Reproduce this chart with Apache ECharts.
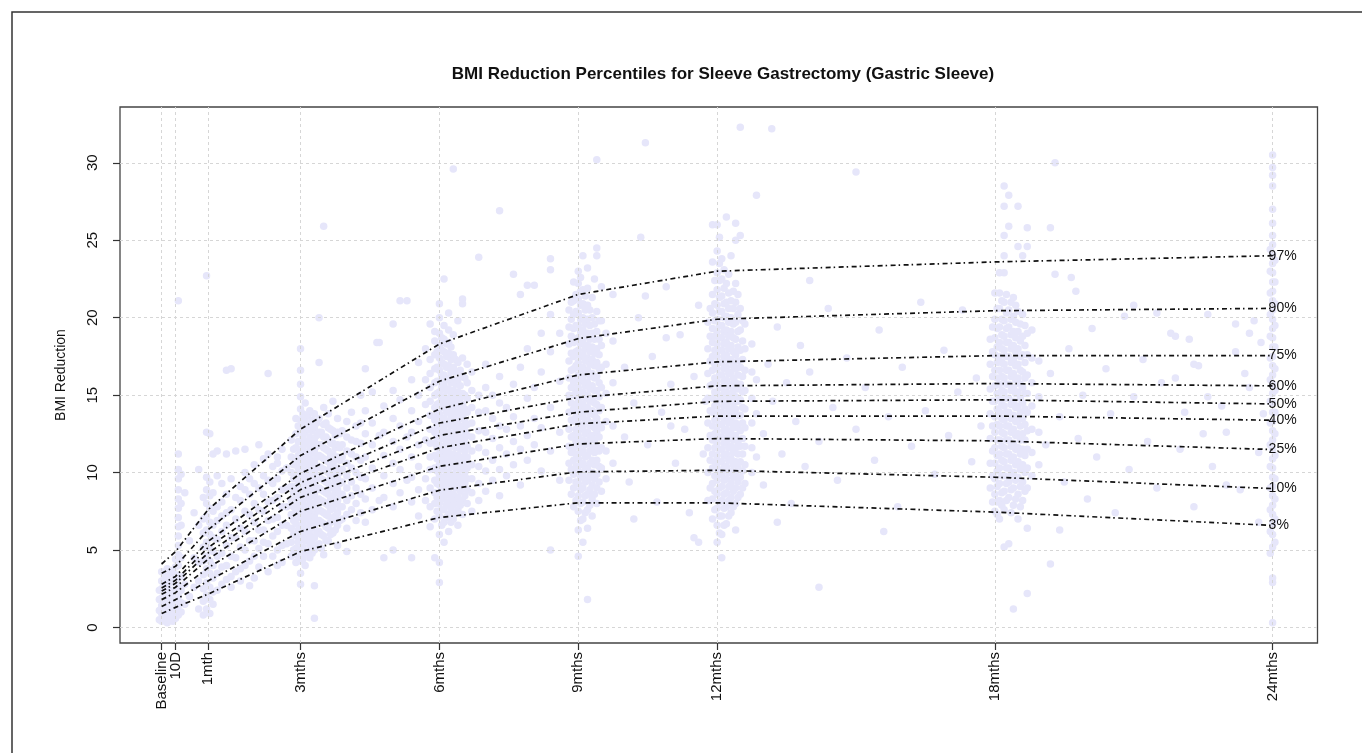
<!DOCTYPE html>
<html>
<head>
<meta charset="utf-8">
<script src="https://cdn.jsdelivr.net/npm/echarts@6/dist/echarts.min.js"></script>
<style>
html,body{margin:0;padding:0;background:#fff;}
#chart{width:1362px;height:753px;}
</style>
</head>
<body>
<div id="chart"></div>
<script>
// ---- axis ticks ----
const tickMonths = [0, 0.3, 1, 3, 6, 9, 12, 18, 24];
const tickLabels = ['Baseline', '10D', '1mth', '3mths', '6mths', '9mths', '12mths', '18mths', '24mths'];
const yTicks = [0, 5, 10, 15, 20, 25, 30];

// ---- percentile curves (BMI reduction at each tick month) ----
const pctNames = ['97%', '90%', '75%', '60%', '50%', '40%', '25%', '10%', '3%'];
const p97 = [4.1, 4.9, 7.6, 12.8, 18.3, 21.5, 23.0, 23.6, 24.0];
const p90 = [3.5, 3.95, 6.3, 11.1, 15.9, 18.65, 19.9, 20.45, 20.6];
const p75 = [2.8, 3.3, 5.55, 9.95, 14.1, 16.3, 17.15, 17.55, 17.55];
const p60 = [2.55, 3.05, 5.15, 9.35, 13.2, 14.85, 15.6, 15.75, 15.6];
const p50 = [2.35, 2.85, 4.8, 8.9, 12.4, 13.9, 14.6, 14.7, 14.43];
const p40 = [2.15, 2.6, 4.4, 8.4, 11.6, 13.15, 13.65, 13.65, 13.38];
const p25 = [1.8, 2.25, 3.85, 7.5, 10.4, 11.85, 12.2, 12.05, 11.49];
const p10 = [1.35, 1.8, 3.0, 6.2, 8.86, 10.05, 10.15, 9.7, 8.97];
const p3  = [0.9, 1.3, 2.15, 4.9, 7.1, 8.05, 8.05, 7.45, 6.59];

// ---- observed patients: [month, [BMI reductions...]] ----
const baselinePts = [
  [-0.05, [0.5, 1.1, 1.8, 2.4]],
  [0.0, [0.4, 0.9, 1.4, 1.9, 2.5, 3.0, 3.6]],
  [0.06, [0.6, 1.2, 1.7, 2.2, 2.8, 3.3]],
  [0.12, [0.3, 0.8, 1.4, 2.0, 2.6, 3.1, 3.8]],
  [0.18, [0.5, 1.0, 1.6, 2.2, 2.9, 3.5]],
  [0.24, [0.4, 0.9, 1.3, 1.9, 2.4, 3.0, 3.7]],
  [0.3, [0.6, 1.1, 1.7, 2.3, 2.9, 3.4, 3.9, 4.4]],
  [0.36, [0.8, 1.4, 2.0, 2.6, 3.2, 4.0, 4.7, 5.3, 5.9, 6.5, 7.1, 7.7, 8.3, 8.9, 9.6, 10.2, 11.2, 21.1]],
  [0.42, [1.0, 1.6, 2.4, 3.3, 4.5, 6.6, 8.0, 9.9]],
  [0.5, [1.5, 2.8, 8.7]]
];
const oneMonthPts = [
  [0.6, [2.0, 5.6]],
  [0.7, [2.6, 4.5, 7.4]],
  [0.8, [1.2, 3.0, 4.2, 6.6, 10.2]],
  [0.9, [0.8, 1.7, 2.5, 3.4, 4.3, 5.2, 6.1, 7.0, 8.4]],
  [0.97, [1.2, 2.1, 2.9, 3.8, 4.6, 5.5, 6.3, 7.2, 8.0, 8.9, 9.7, 12.6, 22.7]],
  [1.04, [0.9, 1.8, 2.6, 3.5, 4.3, 5.1, 6.0, 6.8, 7.7, 8.5, 9.4, 12.5]],
  [1.11, [1.5, 2.3, 3.2, 4.0, 4.9, 5.8, 6.6, 7.5, 8.7, 11.2]],
  [1.2, [2.4, 3.5, 4.6, 5.7, 6.9, 7.8, 9.8, 11.4]],
  [1.3, [2.8, 3.9, 4.8, 6.2, 7.2, 8.1, 9.3]]
];
const earlyPts = [
  [1.4, [3.1, 4.0, 5.3, 6.6, 7.4, 8.6, 11.2, 16.6]],
  [1.5, [2.6, 3.3, 4.6, 5.8, 7.6, 9.6, 16.7]],
  [1.6, [3.6, 4.5, 5.8, 7.0, 8.4, 11.4]],
  [1.7, [3.0, 3.8, 5.2, 6.4, 8.2, 9.1]],
  [1.8, [4.0, 5.0, 6.2, 7.5, 8.9, 10.0, 11.5]],
  [1.9, [2.7, 4.3, 5.6, 7.3, 8.6, 9.6]],
  [2.0, [3.2, 4.6, 5.6, 6.8, 8.0, 9.3, 10.5]],
  [2.1, [3.9, 5.1, 6.3, 7.6, 9.0, 11.8]],
  [2.2, [4.6, 5.5, 6.3, 7.5, 8.6, 9.8, 10.9]],
  [2.3, [3.6, 5.4, 6.9, 8.1, 9.5, 11.2, 16.4]],
  [2.4, [4.6, 5.9, 7.0, 8.2, 9.3, 10.4]],
  [2.5, [4.0, 5.0, 6.2, 7.1, 8.4, 9.6, 10.6, 11.0]],
  [2.6, [4.2, 5.3, 6.6, 7.8, 8.9, 10.1, 11.5]]
];
const threeMonthPts = [
  [2.7, [5.4, 6.6, 7.8, 9.0, 10.3]],
  [2.8, [4.6, 5.5, 6.4, 7.3, 8.2, 9.1, 10.0, 11.0, 12.1]],
  [2.85, [5.0, 6.0, 6.9, 7.8, 8.7, 9.6, 10.5, 11.5]],
  [2.9, [4.2, 5.1, 5.9, 6.7, 7.5, 8.3, 9.1, 9.9, 10.7, 11.6, 12.5, 13.5]],
  [2.95, [4.6, 5.5, 6.3, 7.1, 7.9, 8.7, 9.5, 10.3, 11.1, 12.0, 13.0]],
  [3.0, [2.8, 3.5, 4.3, 5.0, 5.7, 6.4, 7.1, 7.8, 8.5, 9.2, 9.9, 10.6, 11.3, 12.0, 12.7, 13.4, 14.1, 14.9, 15.7, 16.6, 18.0]],
  [3.05, [4.4, 5.2, 6.0, 6.7, 7.4, 8.1, 8.8, 9.5, 10.2, 10.9, 11.6, 12.3, 13.0, 13.8]],
  [3.1, [4.0, 4.8, 5.6, 6.3, 7.0, 7.7, 8.4, 9.1, 9.8, 10.5, 11.2, 11.9, 12.6, 13.4, 14.5]],
  [3.15, [4.9, 5.7, 6.4, 7.1, 7.8, 8.5, 9.2, 9.9, 10.6, 11.3, 12.0, 12.8, 13.7]],
  [3.2, [4.5, 5.3, 6.0, 6.7, 7.4, 8.1, 8.8, 9.5, 10.2, 10.9, 11.6, 12.3, 13.1, 14.0]],
  [3.25, [4.8, 5.6, 6.4, 7.1, 7.8, 8.5, 9.2, 9.9, 10.6, 11.3, 12.0, 12.7, 13.4]],
  [3.3, [0.6, 2.7, 5.0, 5.8, 6.5, 7.2, 7.9, 8.6, 9.3, 10.0, 10.7, 11.4, 12.1, 12.9, 13.8]],
  [3.35, [5.3, 6.1, 6.8, 7.5, 8.2, 8.9, 9.6, 10.3, 11.0, 11.7, 12.4, 13.2]],
  [3.4, [5.4, 6.2, 6.9, 7.6, 8.3, 9.0, 9.7, 10.4, 11.1, 11.8, 12.6, 13.5, 17.1, 20.0]],
  [3.45, [5.1, 6.0, 6.8, 7.5, 8.2, 8.9, 9.6, 10.3, 11.0, 11.8, 12.6]],
  [3.5, [4.7, 5.9, 6.7, 7.4, 8.1, 8.8, 9.5, 10.2, 10.9, 11.6, 12.3, 13.1, 14.2, 25.9]],
  [3.55, [5.6, 6.5, 7.3, 8.0, 8.7, 9.4, 10.1, 10.8, 11.5, 12.3, 13.2]],
  [3.6, [5.6, 6.4, 7.2, 7.9, 8.6, 9.3, 10.0, 10.7, 11.4, 12.1, 12.9, 13.8]],
  [3.65, [6.0, 6.8, 7.6, 8.3, 9.0, 9.7, 10.4, 11.1, 11.9, 12.8]],
  [3.7, [6.1, 6.9, 7.7, 8.4, 9.1, 9.8, 10.5, 11.2, 11.9, 12.7, 14.6]],
  [3.75, [6.3, 7.2, 8.0, 8.7, 9.4, 10.1, 10.8, 11.6, 12.4]],
  [3.8, [5.3, 6.6, 7.4, 8.2, 8.9, 9.6, 10.3, 11.0, 11.8, 12.6, 13.5]],
  [3.85, [6.9, 7.8, 8.6, 9.3, 10.0, 10.8, 11.6, 12.5]],
  [3.9, [7.0, 7.8, 8.6, 9.4, 10.2, 11.0, 11.8, 12.7]],
  [4.0, [4.9, 6.4, 7.3, 8.2, 9.0, 9.8, 10.6, 11.4, 12.3, 13.3]],
  [4.1, [7.6, 8.5, 9.4, 10.3, 11.2, 12.1, 13.9]],
  [4.2, [6.9, 8.0, 9.0, 10.0, 11.0, 12.0, 13.0]],
  [4.3, [7.4, 8.6, 9.7, 10.8, 11.9, 13.2, 15.0]]
];
const fourToSixPts = [
  [4.4, [6.8, 8.3, 9.6, 11.0, 12.5, 14.0, 16.7]],
  [4.55, [7.6, 9.0, 10.3, 11.8, 13.2, 15.2]],
  [4.7, [8.2, 12.4, 18.4]],
  [4.65, [18.4]],
  [4.8, [4.5, 8.4, 9.8, 11.1, 12.6, 14.3]],
  [5.0, [5.0, 7.8, 9.3, 10.6, 12.0, 13.5, 15.3, 19.6]],
  [5.15, [8.7, 10.2, 11.5, 13.0, 14.7, 21.1]],
  [5.3, [9.5, 12.3, 21.1]],
  [5.4, [4.5, 8.1, 9.7, 11.0, 12.6, 14.0, 16.0]],
  [5.55, [7.2, 8.9, 10.4, 11.8, 13.3, 15.0, 17.1]],
  [5.7, [8.2, 9.6, 12.1, 14.4, 16.0, 18.0]]
];
const sixMonthPts = [
  [5.8, [6.5, 7.8, 9.0, 10.2, 11.0, 11.9, 12.8, 13.7, 14.6, 15.5, 16.4, 17.3, 19.6]],
  [5.9, [4.5, 7.0, 8.0, 8.7, 9.5, 10.3, 11.1, 11.9, 12.6, 13.4, 14.2, 15.0, 15.8, 16.7, 17.6, 18.5, 19.1]],
  [5.95, [7.5, 8.4, 9.3, 10.1, 10.9, 11.6, 12.3, 13.0, 13.7, 14.4, 15.1, 15.9, 16.8, 17.8]],
  [6.0, [2.9, 4.2, 6.0, 7.2, 8.0, 8.6, 9.2, 9.8, 10.5, 11.2, 11.8, 12.5, 13.1, 13.8, 14.5, 15.2, 15.9, 16.6, 17.4, 18.2, 19.0, 20.0, 20.9]],
  [6.05, [6.6, 7.6, 8.3, 8.9, 9.5, 10.2, 10.8, 11.5, 12.2, 12.8, 13.5, 14.2, 14.8, 15.5, 16.3, 17.1, 17.9, 18.7]],
  [6.1, [5.5, 6.8, 7.6, 8.3, 9.0, 9.6, 10.2, 10.9, 11.5, 12.2, 12.9, 13.5, 14.2, 14.9, 15.6, 16.3, 17.0, 17.8, 18.6, 19.5, 22.5]],
  [6.15, [7.1, 7.9, 8.6, 9.3, 9.9, 10.6, 11.2, 11.9, 12.5, 13.2, 13.9, 14.5, 15.3, 16.0, 16.8, 17.5, 18.3]],
  [6.2, [6.2, 7.3, 8.1, 8.8, 9.4, 10.0, 10.7, 11.3, 12.0, 12.6, 13.3, 14.0, 14.7, 15.4, 16.1, 16.9, 17.7, 18.4, 19.2, 20.3]],
  [6.25, [6.8, 7.7, 8.4, 9.1, 9.7, 10.4, 11.0, 11.7, 12.3, 13.0, 13.6, 14.3, 15.0, 15.8, 16.5, 17.3, 18.1]],
  [6.3, [7.0, 7.9, 8.6, 9.3, 9.9, 10.6, 11.2, 11.9, 12.5, 13.2, 13.9, 14.6, 15.3, 16.0, 16.8, 17.6, 18.9, 29.6]],
  [6.35, [7.4, 8.2, 9.0, 9.6, 10.3, 10.9, 11.6, 12.2, 12.9, 13.5, 14.2, 14.9, 15.7, 16.5, 17.3]],
  [6.4, [6.6, 7.6, 8.4, 9.1, 9.8, 10.5, 11.1, 11.8, 12.4, 13.1, 13.8, 14.5, 15.2, 16.0, 17.1, 19.8]],
  [6.45, [7.9, 8.8, 9.5, 10.2, 10.8, 11.5, 12.1, 12.8, 13.5, 14.1, 14.8, 15.6, 16.6]],
  [6.5, [7.3, 8.2, 9.0, 9.7, 10.4, 11.0, 11.7, 12.3, 13.0, 13.7, 14.4, 15.1, 16.2, 17.4, 20.9, 21.2]],
  [6.55, [8.5, 9.3, 10.0, 10.7, 11.4, 12.0, 12.7, 13.4, 14.1, 15.0, 16.1]],
  [6.6, [8.0, 8.9, 9.6, 10.3, 11.0, 11.7, 12.4, 13.1, 13.9, 14.8, 15.8, 17.0]],
  [6.7, [7.5, 8.7, 9.6, 10.5, 11.4, 12.3, 13.2, 14.2, 15.3, 16.5]],
  [6.85, [8.2, 9.3, 10.4, 11.6, 12.7, 13.9, 15.0, 23.9]],
  [7.0, [8.8, 10.1, 11.3, 12.6, 14.0, 15.5, 17.0]],
  [7.15, [9.5, 10.8, 12.2, 13.5, 15.0]],
  [7.3, [8.5, 10.2, 11.6, 13.0, 14.5, 16.2, 26.9]],
  [7.45, [9.8, 11.2, 12.8, 14.2]],
  [7.6, [10.5, 12.0, 13.6, 15.7, 22.8]],
  [7.75, [9.2, 11.5, 13.0, 16.8, 21.5]],
  [7.9, [10.8, 12.4, 14.8, 18.0, 22.1]],
  [8.05, [11.8, 13.5, 15.5, 22.1]],
  [8.2, [10.1, 12.9, 16.5, 19.0]],
  [8.4, [5.0, 11.4, 14.2, 17.8, 20.2, 23.1, 23.8]],
  [8.6, [9.5, 12.6, 15.9, 19.0]]
];
const nineMonthPts = [
  [8.8, [9.5, 10.6, 11.7, 12.8, 13.9, 15.0, 16.1, 17.2, 18.3, 19.4, 20.5]],
  [8.85, [8.6, 10.2, 11.3, 12.3, 13.4, 14.5, 15.5, 16.6, 17.7, 18.8, 19.9, 21.0]],
  [8.9, [7.8, 9.0, 9.9, 10.8, 11.6, 12.4, 13.3, 14.1, 15.0, 15.8, 16.7, 17.5, 18.4, 19.3, 20.2, 21.1, 22.3]],
  [8.95, [8.2, 9.4, 10.4, 11.2, 12.0, 12.8, 13.6, 14.4, 15.3, 16.1, 16.9, 17.8, 18.6, 19.5, 20.4, 21.5]],
  [9.0, [4.6, 6.3, 7.5, 8.5, 9.3, 10.1, 10.9, 11.7, 12.4, 13.2, 14.0, 14.7, 15.5, 16.3, 17.1, 17.9, 18.7, 19.5, 20.3, 21.2, 22.2, 23.0]],
  [9.05, [6.9, 8.0, 8.9, 9.7, 10.5, 11.3, 12.0, 12.8, 13.6, 14.3, 15.1, 15.9, 16.7, 17.5, 18.3, 19.1, 19.9, 20.8, 21.7, 22.6]],
  [9.1, [5.5, 7.0, 8.1, 9.0, 9.8, 10.6, 11.4, 12.1, 12.9, 13.7, 14.4, 15.2, 16.0, 16.8, 17.6, 18.4, 19.2, 20.0, 20.9, 21.8, 24.0]],
  [9.15, [7.4, 8.5, 9.4, 10.2, 11.0, 11.8, 12.5, 13.3, 14.1, 14.8, 15.6, 16.4, 17.2, 18.0, 18.8, 19.6, 20.5, 21.4]],
  [9.2, [1.8, 6.4, 7.6, 8.6, 9.5, 10.3, 11.1, 11.9, 12.6, 13.4, 14.2, 15.0, 15.8, 16.6, 17.4, 18.2, 19.0, 19.9, 20.8, 21.9, 23.2]],
  [9.25, [7.9, 8.9, 9.8, 10.6, 11.4, 12.2, 13.0, 13.8, 14.6, 15.4, 16.2, 17.0, 17.8, 18.6, 19.5, 20.5]],
  [9.3, [7.2, 8.3, 9.2, 10.0, 10.8, 11.6, 12.4, 13.2, 14.0, 14.8, 15.6, 16.4, 17.3, 18.1, 19.0, 20.0, 21.3]],
  [9.35, [8.6, 9.6, 10.5, 11.3, 12.1, 12.9, 13.7, 14.5, 15.3, 16.1, 16.9, 17.7, 18.6, 19.6, 22.5]],
  [9.4, [8.0, 9.0, 9.9, 10.8, 11.7, 12.6, 13.5, 14.4, 15.3, 16.2, 17.1, 18.0, 19.1, 20.4, 24.0, 24.5, 30.2]],
  [9.45, [9.4, 10.4, 11.4, 12.3, 13.1, 14.0, 14.9, 15.8, 16.7, 17.6, 18.6, 19.8]],
  [9.5, [8.8, 10.3, 11.6, 12.9, 14.2, 15.5, 16.8, 18.2, 19.8, 22.0]],
  [9.6, [9.6, 11.4, 13.3, 15.1, 17.0, 19.0]],
  [9.75, [10.6, 13.0, 15.8, 18.5, 21.5]]
];
const nineToTwelvePts = [
  [10.0, [12.3, 16.8]], [10.1, [9.4]], [10.2, [7.0, 14.5]], [10.3, [20.0]],
  [10.35, [25.2]], [10.45, [31.3, 21.4]], [10.5, [11.8]], [10.6, [17.5]], [10.7, [8.1]],
  [10.8, [13.9]], [10.9, [18.7, 22.0]], [11.0, [13.0, 15.7]], [11.1, [10.6]],
  [11.2, [18.9]], [11.3, [12.8]], [11.4, [7.4]], [11.5, [5.8, 16.2]], [11.6, [5.5, 20.8]],
  [11.7, [11.2]], [11.75, [14.6]]
];
const twelveMonthPts = [
  [11.8, [8.2, 10.0, 11.6, 13.2, 14.8, 16.4, 18.0, 19.7]],
  [11.85, [9.0, 10.8, 12.4, 14.0, 15.6, 17.2, 18.8, 20.6]],
  [11.9, [7.0, 8.3, 9.3, 10.3, 11.2, 12.1, 13.0, 13.9, 14.8, 15.7, 16.6, 17.5, 18.4, 19.3, 20.3, 21.5, 23.6, 26.0]],
  [11.95, [7.6, 8.8, 9.8, 10.7, 11.6, 12.5, 13.4, 14.3, 15.2, 16.1, 17.0, 17.9, 18.8, 19.8, 20.9, 22.4]],
  [12.0, [5.5, 6.6, 7.7, 8.6, 9.5, 10.3, 11.1, 11.9, 12.7, 13.5, 14.3, 15.1, 15.9, 16.7, 17.5, 18.3, 19.1, 19.9, 20.8, 21.8, 22.9, 24.3, 26.0]],
  [12.05, [6.1, 7.2, 8.1, 9.0, 9.9, 10.7, 11.5, 12.3, 13.1, 13.9, 14.7, 15.5, 16.3, 17.1, 17.9, 18.7, 19.5, 20.4, 21.3, 22.4, 23.5, 25.2]],
  [12.1, [4.5, 6.0, 7.2, 8.2, 9.1, 9.9, 10.7, 11.5, 12.3, 13.1, 13.9, 14.7, 15.5, 16.3, 17.1, 17.9, 18.7, 19.5, 20.4, 21.4, 22.5, 23.8]],
  [12.15, [6.6, 7.7, 8.6, 9.5, 10.3, 11.1, 11.9, 12.7, 13.5, 14.3, 15.1, 15.9, 16.7, 17.5, 18.3, 19.1, 20.0, 20.9, 21.9, 23.1]],
  [12.2, [6.7, 7.8, 8.7, 9.6, 10.4, 11.2, 12.0, 12.8, 13.6, 14.4, 15.2, 16.0, 16.8, 17.6, 18.4, 19.2, 20.1, 21.0, 22.2, 26.5]],
  [12.25, [7.2, 8.2, 9.1, 10.0, 10.8, 11.6, 12.4, 13.2, 14.0, 14.8, 15.6, 16.4, 17.2, 18.0, 18.8, 19.7, 20.6, 21.6, 22.8]],
  [12.3, [7.4, 8.4, 9.3, 10.1, 10.9, 11.7, 12.5, 13.3, 14.1, 14.9, 15.7, 16.5, 17.3, 18.2, 19.1, 20.0, 21.1, 24.0]],
  [12.35, [7.8, 8.8, 9.7, 10.5, 11.3, 12.1, 12.9, 13.7, 14.5, 15.3, 16.1, 16.9, 17.8, 18.7, 19.6, 20.6, 21.7]],
  [12.4, [6.3, 8.0, 9.0, 9.9, 10.7, 11.6, 12.4, 13.2, 14.1, 14.9, 15.8, 16.7, 17.6, 18.6, 19.7, 21.0, 22.2, 25.0, 26.1]],
  [12.45, [8.4, 9.4, 10.3, 11.2, 12.0, 12.9, 13.7, 14.6, 15.4, 16.3, 17.2, 18.1, 19.1, 20.2, 21.5]],
  [12.5, [8.6, 9.7, 10.7, 11.7, 12.7, 13.7, 14.7, 15.7, 16.8, 17.9, 19.2, 20.6, 25.3, 32.3]],
  [12.55, [9.0, 10.1, 11.2, 12.2, 13.2, 14.2, 15.2, 16.2, 17.3, 18.5, 19.8]],
  [12.6, [9.3, 10.5, 11.7, 12.9, 14.1, 15.3, 16.6, 18.0, 19.6]],
  [12.75, [10.0, 11.6, 13.2, 14.8, 16.5, 18.3]],
  [12.85, [11.0, 13.8, 16.0, 27.9]]
];
const twelveToEighteenPts = [
  [13.0, [9.2, 12.5]], [13.1, [17.0]], [13.18, [32.2]], [13.2, [14.6]], [13.3, [6.8, 19.4]],
  [13.4, [11.2]], [13.5, [15.8]], [13.6, [8.0]], [13.7, [13.3]], [13.8, [18.2]], [13.9, [10.4]],
  [14.0, [16.5, 22.4]], [14.2, [2.6, 12.0]], [14.4, [20.6]], [14.5, [14.2]], [14.6, [9.5]],
  [14.8, [17.4]], [15.0, [12.8, 29.4]], [15.2, [15.5]], [15.4, [10.8]], [15.5, [19.2]],
  [15.6, [6.2]], [15.7, [13.6]], [15.9, [7.8]], [16.0, [16.8]], [16.2, [11.7]], [16.4, [21.0]],
  [16.5, [14.0]], [16.7, [9.9]], [16.9, [17.9]], [17.0, [12.4]], [17.2, [15.2]], [17.3, [20.5]],
  [17.5, [10.7]], [17.6, [16.1]], [17.7, [13.0]]
];
const eighteenMonthPts = [
  [17.9, [9.0, 10.6, 12.2, 13.8, 15.4, 17.0, 18.6]],
  [17.95, [8.1, 9.8, 11.4, 13.0, 14.6, 16.2, 17.8, 19.4]],
  [18.0, [7.5, 8.6, 9.6, 10.6, 11.6, 12.6, 13.6, 14.6, 15.6, 16.6, 17.6, 18.7, 19.9, 21.6]],
  [18.05, [7.3, 8.1, 9.1, 10.1, 11.1, 12.1, 13.1, 14.1, 15.1, 16.1, 17.1, 18.1, 19.3, 20.6]],
  [18.1, [7.0, 8.2, 9.3, 10.3, 11.2, 12.1, 13.0, 13.9, 14.8, 15.7, 16.6, 17.5, 18.4, 19.4, 20.6, 21.6, 22.9]],
  [18.15, [7.9, 8.7, 9.8, 10.8, 11.7, 12.6, 13.5, 14.4, 15.3, 16.2, 17.1, 18.0, 18.9, 19.9, 21.1]],
  [18.2, [5.2, 7.6, 8.8, 9.8, 10.7, 11.6, 12.5, 13.4, 14.3, 15.2, 16.1, 17.0, 17.9, 18.8, 19.8, 21.0, 22.9, 24.0, 25.3, 27.2, 28.5]],
  [18.25, [8.2, 9.3, 10.3, 11.2, 12.1, 13.0, 13.9, 14.8, 15.7, 16.6, 17.5, 18.4, 19.3, 20.3, 21.5]],
  [18.3, [5.4, 8.4, 9.4, 10.3, 11.2, 12.1, 13.0, 13.9, 14.8, 15.7, 16.6, 17.5, 18.4, 19.4, 20.5, 25.9, 27.9]],
  [18.35, [7.4, 8.9, 9.9, 10.8, 11.7, 12.6, 13.5, 14.4, 15.3, 16.2, 17.1, 18.0, 18.9, 19.9, 21.0]],
  [18.4, [1.2, 7.9, 9.0, 10.0, 11.0, 11.9, 12.8, 13.7, 14.6, 15.5, 16.4, 17.3, 18.2, 19.1, 20.1, 21.3]],
  [18.45, [8.3, 9.5, 10.5, 11.5, 12.4, 13.3, 14.2, 15.1, 16.0, 16.9, 17.8, 18.7, 19.7, 20.8]],
  [18.5, [7.0, 8.6, 9.7, 10.7, 11.6, 12.5, 13.4, 14.3, 15.2, 16.1, 17.0, 18.0, 19.1, 20.4, 24.6, 27.2]],
  [18.55, [7.8, 9.1, 10.2, 11.2, 12.1, 13.0, 13.9, 14.8, 15.7, 16.6, 17.5, 18.5, 19.6]],
  [18.6, [8.2, 9.4, 10.5, 11.5, 12.5, 13.5, 14.5, 15.5, 16.5, 17.6, 18.8, 20.2, 24.0]],
  [18.65, [8.8, 10.0, 11.1, 12.1, 13.1, 14.1, 15.1, 16.1, 17.1, 18.2, 19.5]],
  [18.7, [2.2, 6.4, 9.0, 10.3, 11.5, 12.7, 13.9, 15.1, 16.3, 17.6, 19.0, 24.6, 25.8]],
  [18.8, [9.8, 11.3, 12.8, 14.3, 15.8, 17.4, 19.2]],
  [18.95, [10.5, 12.6, 14.9, 17.2]]
];
const eighteenToTwentyFourPts = [
  [19.1, [11.8]], [19.2, [4.1, 16.4, 25.8]], [19.3, [22.8, 30.0]], [19.4, [6.3, 13.6]],
  [19.5, [9.4]], [19.6, [18.0]], [19.65, [22.6]], [19.75, [21.7]], [19.8, [12.2]], [19.9, [15.0]],
  [20.0, [8.3]], [20.1, [19.3]], [20.2, [11.0]], [20.4, [16.7]], [20.5, [13.8]], [20.6, [7.4]],
  [20.8, [20.1]], [20.9, [10.2]], [21.0, [14.9, 20.8]], [21.2, [17.3]], [21.3, [12.0]],
  [21.5, [9.0, 20.3]], [21.6, [15.8]], [21.8, [19.0]], [21.9, [16.1, 18.8]], [22.0, [11.5]],
  [22.1, [13.9]], [22.2, [18.6]], [22.3, [7.8, 17.0]], [22.4, [16.9]], [22.5, [12.5]],
  [22.6, [14.9, 20.2]], [22.7, [10.4]], [22.9, [14.3]], [23.0, [9.2, 12.6]], [23.2, [17.8, 19.6]],
  [23.3, [8.9]], [23.4, [16.4]], [23.5, [15.5, 19.0]], [23.6, [19.8]], [23.7, [6.8, 11.3]],
  [23.75, [18.4]], [23.8, [13.8]]
];
const twentyFourPts = [
  [23.95, [4.8, 6.2, 7.6, 9.0, 10.4, 11.8, 13.2, 14.6, 16.0, 17.4, 18.8, 20.2, 21.6, 23.0, 24.4]],
  [24.0, [0.3, 2.9, 3.2, 5.2, 6.0, 6.7, 7.3, 7.9, 8.5, 9.1, 9.7, 10.3, 10.9, 11.5, 12.1, 12.7, 13.3, 13.9, 14.5, 15.1, 15.7, 16.3, 16.9, 17.5, 18.1, 18.7, 19.3, 19.9, 20.5, 21.1, 21.7, 22.3, 22.9, 23.5, 24.1, 24.7, 25.3, 26.1, 27.0, 28.5, 29.2, 29.7, 30.5]],
  [24.05, [5.5, 7.0, 8.3, 9.6, 11.1, 12.5, 13.9, 15.3, 16.7, 18.1, 19.5, 20.9, 22.3, 23.7]]
];

// ---- build ----
const groups = [baselinePts, oneMonthPts, earlyPts, threeMonthPts, fourToSixPts, sixMonthPts,
  nineMonthPts, nineToTwelvePts, twelveMonthPts, twelveToEighteenPts, eighteenMonthPts,
  eighteenToTwentyFourPts, twentyFourPts];
const scatterData = [];
groups.forEach(g => g.forEach(([m, ys]) => ys.forEach(y => scatterData.push([m, y]))));

const pctValues = [p97, p90, p75, p60, p50, p40, p25, p10, p3];
const FONT = '"Liberation Sans", Arial, sans-serif';

const lineSeries = pctValues.map((vals, k) => ({
  type: 'line',
  name: pctNames[k],
  data: tickMonths.map((m, i) => [m, vals[i]]),
  showSymbol: false,
  symbol: 'none',
  z: 5,
  lineStyle: { color: '#111', width: 1.7, type: [5, 3, 1.5, 3.5] },
  endLabel: {
    show: true, formatter: pctNames[k], distance: -4,
    color: '#111', fontSize: 14, fontFamily: FONT
  },
  silent: true
}));

const gridLineStyle = { color: '#d6d6d6', width: 1, type: [3, 3] };

// split the tick labels over two overlaid x axes so neighbouring labels are never dropped
const tickSetA = tickMonths.filter((m, i) => i % 2 === 0);
const tickSetB = tickMonths.filter((m, i) => i % 2 === 1);
const makeXAxis = (ticks) => ({
  type: 'value', min: -0.9, max: 24.97, position: 'bottom',
  axisLine: { show: false, onZero: false },
  splitLine: { show: false },
  axisTick: { show: true, length: 7, customValues: ticks, lineStyle: { color: '#333', width: 1.2 } },
  axisLabel: {
    customValues: ticks, rotate: 90, margin: 9, hideOverlap: false,
    fontFamily: FONT, fontSize: 15, color: '#111',
    formatter: v => { const i = tickMonths.indexOf(v); return i >= 0 ? tickLabels[i] : ''; }
  }
});

const chart = echarts.init(document.getElementById('chart'), null, { renderer: 'canvas' });
chart.setOption({
  animation: false,
  backgroundColor: '#fff',
  title: {
    text: 'BMI Reduction Percentiles for Sleeve Gastrectomy (Gastric Sleeve)',
    left: 718, top: 61, textAlign: 'center',
    textStyle: { fontFamily: FONT, fontSize: 17, fontWeight: 'bold', color: '#111' }
  },
  graphic: [{
    type: 'rect', silent: true,
    shape: { x: 12, y: 12, width: 1400, height: 800 },
    style: { fill: 'none', stroke: '#333', lineWidth: 1.5 }
  }],
  grid: {
    left: 120, right: 44.5, top: 107, bottom: 110,
    show: true, borderColor: '#444', borderWidth: 1.3, backgroundColor: 'transparent'
  },
  xAxis: [makeXAxis(tickSetA), makeXAxis(tickSetB)],
  yAxis: {
    type: 'value', min: -1.0, max: 33.6,
    name: 'BMI Reduction', nameLocation: 'middle', nameGap: 52,
    nameTextStyle: { fontFamily: FONT, fontSize: 14, color: '#111' },
    axisLine: { show: false, onZero: false },
    splitLine: { show: false },
    axisTick: { show: true, length: 7, customValues: yTicks, lineStyle: { color: '#333', width: 1.2 } },
    axisLabel: {
      customValues: yTicks, rotate: 90, margin: 20, hideOverlap: false,
      fontFamily: FONT, fontSize: 15, color: '#111'
    }
  },
  series: [
    {
      type: 'line', data: [], silent: true, z: 1,
      markLine: {
        silent: true, symbol: ['none', 'none'], label: { show: false },
        lineStyle: gridLineStyle, animation: false,
        data: tickMonths.map(m => ({ xAxis: m })).concat(yTicks.map(v => ({ yAxis: v })))
      }
    },
    {
      type: 'scatter', data: scatterData, symbolSize: 7.5, z: 2, silent: true,
      itemStyle: { color: '#e6e6fa', opacity: 1 }
    }
  ].concat(lineSeries)
});
</script>
</body>
</html>
